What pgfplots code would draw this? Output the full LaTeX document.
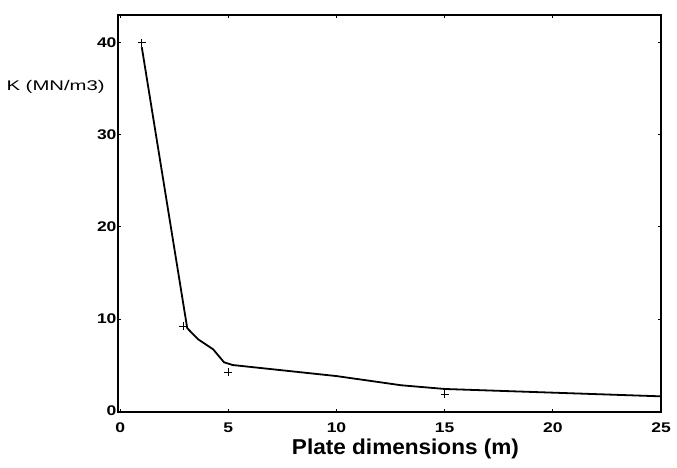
\documentclass[border=0pt]{standalone}
\usepackage{fontspec}
\setmainfont{Liberation Sans}
\usepackage{graphicx}
\usepackage{pgfplots}
\pgfplotsset{compat=1.18}

\begin{document}
\begin{tikzpicture}
\begin{axis}[
    scale only axis,
    width=543pt, height=397pt,
    xmin=-0.1, xmax=25, ymin=-0.1, ymax=43,
    xtick={0,5,10,15,20,25},
    ytick={0,10,20,30,40},
    tick align=inside,
    major tick length=3pt,
    tick style={black, line width=0.9pt},
    axis line style={line width=1.6pt},
    ticklabel style={font=\fontsize{14}{16}\selectfont\bfseries},
    xticklabel={\scalebox{1.25}[1]{\pgfmathprintnumber[assume math mode=true]{\tick}}},
    yticklabel={\scalebox{1.25}[1]{\pgfmathprintnumber[assume math mode=true]{\tick}}},
    xticklabel style={yshift=-7pt},
    yticklabel style={xshift=2pt},
    xlabel={\scalebox{1.05}[1]{Plate dimensions (m)}},
    xlabel style={font=\fontsize{21.5}{24}\selectfont\bfseries, xshift=16pt},
    ylabel={\scalebox{1.45}[1]{K (MN/m3)}},
    ylabel style={font=\fontsize{14}{16}\selectfont, rotate=-90, anchor=east, at={(axis description cs:-0.018,0.82)}},
    clip=false,
]
\addplot[black, line width=1.8pt] coordinates {
    (1,39.5) (3.1,9.0) (3.6,7.8) (4.3,6.7) (4.8,5.3) (5.2,5.0)
    (10,3.8) (13,2.8) (15,2.4) (20,2.0) (25,1.6)
};
\addplot[only marks, mark=+, mark size=4pt, black, line width=0.8pt] coordinates {
    (1,40) (2.9,9.2) (5,4.2) (15,1.8)
};
\end{axis}
\path (current axis.south west) ++(-118pt,-56pt) (current axis.north east) ++(16pt,15pt);
\end{tikzpicture}
\end{document}
